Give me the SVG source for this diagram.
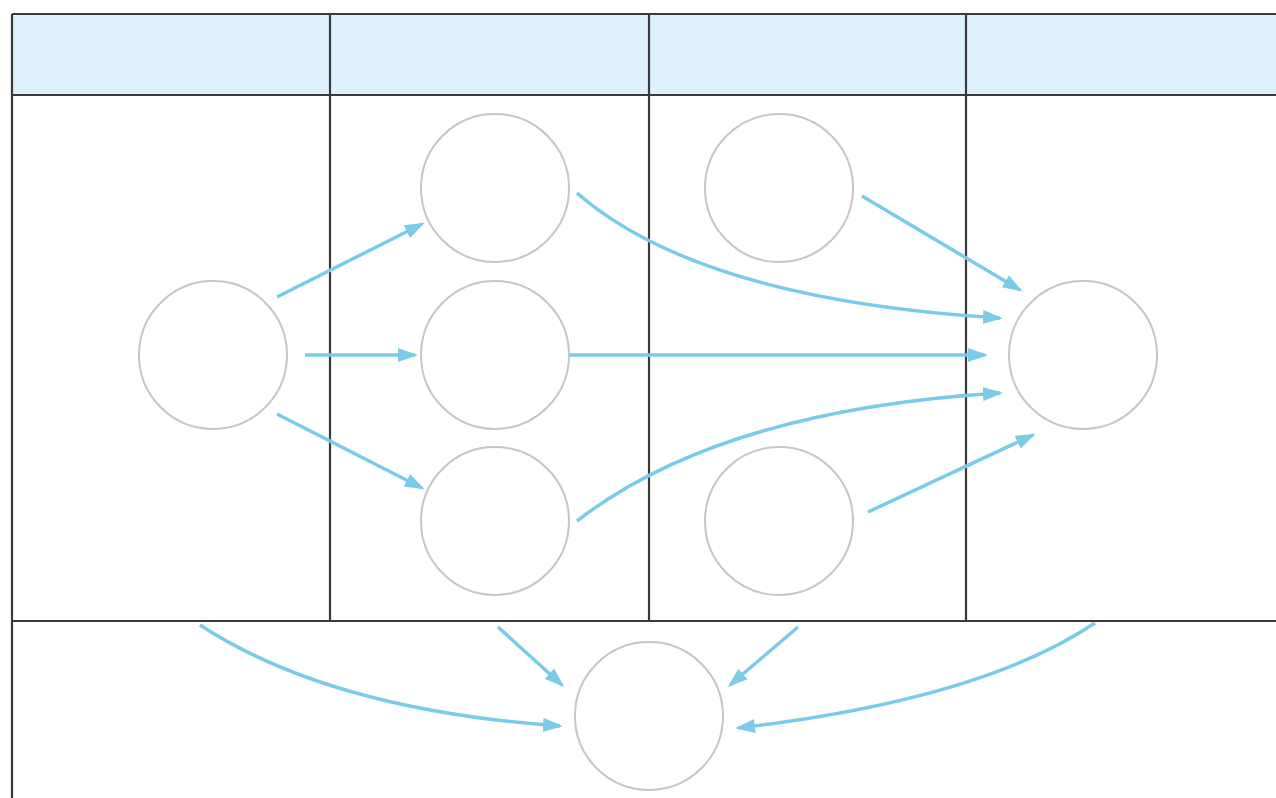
<svg xmlns="http://www.w3.org/2000/svg" width="1276" height="798" viewBox="0 0 1276 798">
<style>
.grid{stroke:#3a3a3a;stroke-width:2.2;fill:none}
.node{fill:#fff;stroke:#c6c6c6;stroke-width:2}
.edge{fill:none;stroke:#79cbe8;stroke-width:3.5;marker-end:url(#ah)}
</style>
<defs>
<marker id="ah" viewBox="0 0 20 14" refX="17" refY="7" markerWidth="20" markerHeight="14" markerUnits="userSpaceOnUse" orient="auto">
<path d="M0,0 L20,7 L0,14 z" fill="#79cbe8"/>
</marker>
</defs>
<rect width="1276" height="798" fill="#fff"/>
<g id="table">
<rect x="12" y="14" width="1266" height="81" fill="#dff1fb"/>
<line class="grid" x1="12" y1="14" x2="1276" y2="14"/>
<line class="grid" x1="12" y1="95" x2="1276" y2="95"/>
<line class="grid" x1="12" y1="621" x2="1276" y2="621"/>
<line class="grid" x1="12" y1="14" x2="12" y2="798"/>
<line class="grid" x1="330" y1="14" x2="330" y2="621"/>
<line class="grid" x1="649" y1="14" x2="649" y2="621"/>
<line class="grid" x1="966" y1="14" x2="966" y2="621"/>
</g>
<g id="n1"><circle class="node" cx="213" cy="355" r="74"/></g>
<g id="n2"><circle class="node" cx="495" cy="188" r="74"/></g>
<g id="n3"><circle class="node" cx="495" cy="355" r="74"/></g>
<g id="n4"><circle class="node" cx="495" cy="521" r="74"/></g>
<g id="n5"><circle class="node" cx="779" cy="188" r="74"/></g>
<g id="n6"><circle class="node" cx="779" cy="521" r="74"/></g>
<g id="n7"><circle class="node" cx="1083" cy="355" r="74"/></g>
<g id="n8"><circle class="node" cx="649" cy="716" r="74"/></g>
<g id="connectors">
<path class="edge" d="M277,297 L422,224"/>
<path class="edge" d="M305,355 L415,355"/>
<path class="edge" d="M277,414 L422,488"/>
<path class="edge" d="M577,193 Q700,300 1000,318"/>
<path class="edge" d="M570,355 L985,355"/>
<path class="edge" d="M577,521 Q720,410 1000,393"/>
<path class="edge" d="M862,196 L1020,290"/>
<path class="edge" d="M868,512 L1033,435"/>
<path class="edge" d="M200,625 Q330,710 560,726"/>
<path class="edge" d="M498,627 L562,685"/>
<path class="edge" d="M798,627 L730,685"/>
<path class="edge" d="M1095,623 Q980,700 738,728"/>
</g>
</svg>
